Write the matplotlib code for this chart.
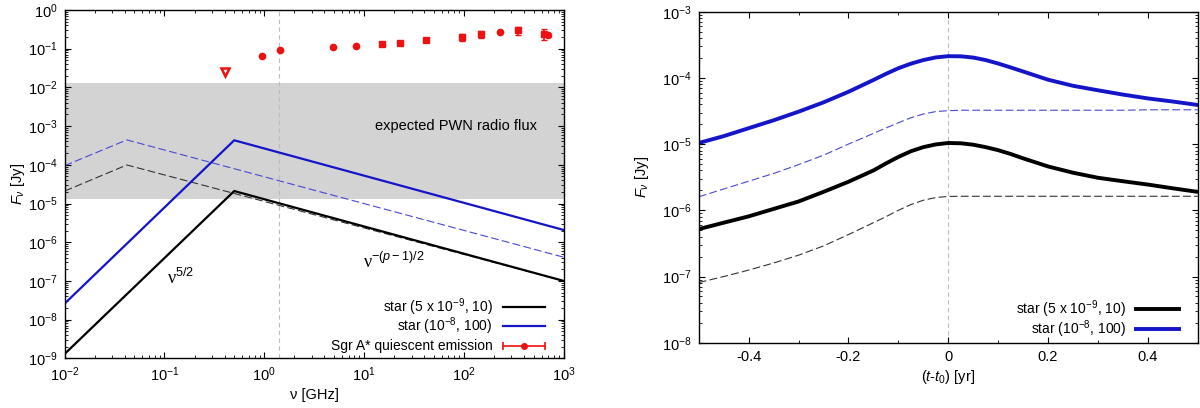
import matplotlib.pyplot as plt
from matplotlib.ticker import LogLocator, MultipleLocator, NullFormatter, FixedLocator

plt.rcParams['font.family'] = ['Liberation Sans', 'DejaVu Sans']
plt.rcParams['mathtext.fontset'] = 'custom'
plt.rcParams['mathtext.rm'] = 'Liberation Sans'
plt.rcParams['mathtext.it'] = 'Liberation Sans:italic'
plt.rcParams['mathtext.bf'] = 'Liberation Sans:bold'

# ---- left panel: spectra (broken power laws, break points only) ----
nu_star = [0.01, 0.5, 1000]                 # GHz
flux_star1 = [1.3e-9, 2.1e-5, 1.0e-7]       # star (5e-9, 10)
flux_star2 = [2.6e-8, 4.3e-4, 2.07e-6]      # star (1e-8, 100)
nu_dash = [0.01, 0.042, 1000]
flux_dash1 = [2.1e-5, 9.9e-5, 1.0e-7]
flux_dash2 = [9.5e-5, 4.4e-4, 4.1e-7]

pwn_band = [1.3e-5, 1.3e-2]
nu_mark = 1.4

# Sgr A* quiescent emission
sgr_nu_circ = [0.95, 1.45, 4.9, 8.3, 230, 690]
sgr_f_circ = [0.065, 0.09, 0.108, 0.115, 0.275, 0.22]
sgr_nu_sq = [15, 23, 42, 95, 150, 350, 640]
sgr_f_sq = [0.132, 0.137, 0.164, 0.20, 0.234, 0.297, 0.245]
sgr_sq_lo = [0.0, 0.0, 0.0, 0.045, 0.044, 0.077, 0.081]
sgr_sq_hi = [0.0, 0.0, 0.0, 0.044, 0.056, 0.066, 0.071]
sgr_ul_nu = [0.40]
sgr_ul_f = [0.025]

# ---- right panel: light curves ----
t_yr = [-0.5, -0.45, -0.4, -0.35, -0.3, -0.25, -0.2, -0.15, -0.125, -0.1, -0.075,
        -0.05, -0.025, 0.0, 0.025, 0.05, 0.075, 0.1, 0.125, 0.15, 0.2, 0.25, 0.3,
        0.35, 0.4, 0.45, 0.5]
lc_star2 = [1.04e-5, 1.32e-5, 1.74e-5, 2.29e-5, 3.09e-5, 4.27e-5, 6.17e-5, 9.3e-5,
            1.15e-4, 1.40e-4, 1.64e-4, 1.86e-4, 2.04e-4, 2.13e-4, 2.12e-4, 2.03e-4,
            1.86e-4, 1.65e-4, 1.44e-4, 1.25e-4, 9.4e-5, 7.6e-5, 6.5e-5, 5.6e-5,
            4.9e-5, 4.4e-5, 3.9e-5]
lc_dash2 = [1.6e-6, 2.1e-6, 2.75e-6, 3.6e-6, 4.9e-6, 6.8e-6, 1.0e-5, 1.45e-5,
            1.75e-5, 2.1e-5, 2.5e-5, 2.85e-5, 3.1e-5, 3.2e-5, 3.25e-5, 3.25e-5,
            3.25e-5, 3.25e-5, 3.25e-5, 3.25e-5, 3.25e-5, 3.25e-5, 3.25e-5, 3.25e-5,
            3.3e-5, 3.3e-5, 3.3e-5]
lc_star1 = [5.2e-7, 6.5e-7, 8.1e-7, 1.05e-6, 1.36e-6, 1.9e-6, 2.7e-6, 4.0e-6,
            5.1e-6, 6.4e-6, 7.8e-6, 9.0e-6, 9.9e-6, 1.04e-5, 1.03e-5, 9.8e-6,
            9.0e-6, 8.1e-6, 7.1e-6, 6.1e-6, 4.6e-6, 3.7e-6, 3.1e-6, 2.75e-6,
            2.45e-6, 2.15e-6, 1.9e-6]
lc_dash1 = [8.1e-8, 1.0e-7, 1.25e-7, 1.6e-7, 2.1e-7, 2.9e-7, 4.3e-7, 6.5e-7,
            8.0e-7, 1.0e-6, 1.22e-6, 1.42e-6, 1.56e-6, 1.62e-6, 1.63e-6, 1.63e-6,
            1.63e-6, 1.63e-6, 1.63e-6, 1.63e-6, 1.63e-6, 1.63e-6, 1.63e-6, 1.63e-6,
            1.63e-6, 1.63e-6, 1.63e-6]

labels = ['star (5 x 10$^{-9}$, 10)', 'star (10$^{-8}$, 100)', 'Sgr A* quiescent emission']

BLUE = '#1414c8'
RED = '#ee1111'
FS = 10.5
LFS = 10

fig = plt.figure(figsize=(12, 4.08), dpi=100)
ax1 = fig.add_axes([0.0539, 0.1218, 0.4158, 0.8537])
ax2 = fig.add_axes([0.5823, 0.160, 0.4158, 0.8113])

# left
ax1.axhspan(pwn_band[0], pwn_band[1], color='#d3d3d3', lw=0, zorder=0)
ax1.axvline(nu_mark, color='#bbbbbb', lw=0.8, ls=(0, (4, 3)), zorder=1)
ax1.plot(nu_dash, flux_dash2, color='#4848d8', lw=0.8, ls=(0, (7, 3)))
ax1.plot(nu_dash, flux_dash1, color='#333333', lw=0.8, ls=(0, (7, 3)))
ax1.plot(nu_star, flux_star2, color=BLUE, lw=1.6)
ax1.plot(nu_star, flux_star1, color='black', lw=1.6)
ax1.errorbar(sgr_nu_sq, sgr_f_sq, yerr=[sgr_sq_lo, sgr_sq_hi], fmt='s', ms=4.2,
             color=RED, ecolor=RED, elinewidth=1.2, capsize=2.5)
ax1.plot(sgr_nu_circ, sgr_f_circ, 'o', ms=4.5, color=RED)
ax1.plot(sgr_ul_nu, sgr_ul_f, 'v', ms=5.5, mfc='white', mec=RED, mew=1.8)

ax1.text(540, 1e-3, 'expected PWN radio flux', ha='right', va='center', fontsize=FS)
ax1.text(0.105, 8.5e-8, 'ν$^{5/2}$', fontsize=13, va='baseline',
         family=['Liberation Serif', 'DejaVu Serif'])
ax1.text(9.8, 2.1e-7, 'ν$^{-(p-1)/2}$', fontsize=13, va='baseline',
         family=['Liberation Serif', 'DejaVu Serif'])

ax1.set_xscale('log')
ax1.set_yscale('log')
ax1.set_xlim(1e-2, 1e3)
ax1.set_ylim(1e-9, 1e0)
ax1.yaxis.set_major_locator(LogLocator(base=10, numticks=20))
ax1.yaxis.set_minor_locator(LogLocator(base=10, subs=range(2, 10), numticks=20))
ax1.yaxis.set_minor_formatter(NullFormatter())
ax1.xaxis.set_minor_formatter(NullFormatter())
ax1.set_xlabel('ν [GHz]', fontsize=FS, labelpad=3)
ax1.set_ylabel(r'$F_{\nu}$ [Jy]', fontsize=FS, labelpad=1)

# left legend (gnuplot style: text then sample)
rows = [0.148, 0.092, 0.035]
x_txt, x0, x1 = 0.858, 0.878, 0.963
cols = ['black', BLUE]
for i in range(2):
    ax1.text(x_txt, rows[i], labels[i], transform=ax1.transAxes, ha='right', va='center', fontsize=LFS)
    ax1.plot([x0, x1], [rows[i]] * 2, transform=ax1.transAxes, color=cols[i], lw=1.6, clip_on=False)
ax1.text(x_txt, rows[2], labels[2], transform=ax1.transAxes, ha='right', va='center', fontsize=LFS)
ax1.plot([x0, x1], [rows[2]] * 2, transform=ax1.transAxes, color=RED, lw=1.2)
ax1.plot([x0, x1], [rows[2]] * 2, transform=ax1.transAxes, color=RED, ls='none', marker='|', ms=6, mew=1.2)
ax1.plot([(x0 + x1) / 2], [rows[2]], transform=ax1.transAxes, color=RED, marker='o', ms=4)

# right
ax2.axvline(0, color='#bbbbbb', lw=0.8, ls=(0, (4, 3)), zorder=1)
ax2.plot(t_yr, lc_dash2, color='#4848d8', lw=0.8, ls=(0, (7, 3)))
ax2.plot(t_yr, lc_dash1, color='#333333', lw=0.8, ls=(0, (7, 3)))
ax2.plot(t_yr, lc_star2, color=BLUE, lw=2.8)
ax2.plot(t_yr, lc_star1, color='black', lw=2.8)
ax2.set_yscale('log')
ax2.set_xlim(-0.5, 0.5)
ax2.set_ylim(1e-8, 1e-3)
ax2.xaxis.set_major_locator(FixedLocator([-0.4, -0.2, 0, 0.2, 0.4]))
ax2.xaxis.set_major_formatter(plt.FuncFormatter(lambda v, p: '%g' % round(v, 1)))
ax2.xaxis.set_minor_locator(MultipleLocator(0.1))
ax2.yaxis.set_major_locator(LogLocator(base=10, numticks=20))
ax2.yaxis.set_minor_locator(LogLocator(base=10, subs=range(2, 10), numticks=20))
ax2.yaxis.set_minor_formatter(NullFormatter())
ax2.set_xlabel(r'$(t$-$t_0)$ [yr]', fontsize=FS, labelpad=3)
ax2.set_ylabel(r'$F_{\nu}$ [Jy]', fontsize=FS, labelpad=8)

rows2 = [0.101, 0.040]
for i in range(2):
    ax2.text(0.856, rows2[i], labels[i], transform=ax2.transAxes, ha='right', va='center', fontsize=LFS)
    ax2.plot([0.876, 0.9625], [rows2[i]] * 2, transform=ax2.transAxes, color=cols[i], lw=2.8)

for ax in (ax1, ax2):
    ax.tick_params(which='both', direction='in', top=True, right=True, labelsize=FS)
    ax.tick_params(which='major', length=4, width=0.8, pad=5)
    ax.tick_params(which='minor', length=2, width=0.6)
    for s in ax.spines.values():
        s.set_linewidth(1.0)

fig.savefig('out.png', dpi=100)
